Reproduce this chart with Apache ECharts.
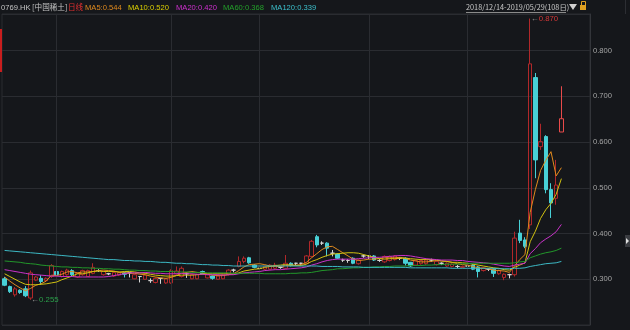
<!DOCTYPE html>
<html><head><meta charset="utf-8">
<script src="https://cdn.jsdelivr.net/npm/echarts@6/dist/echarts.min.js"></script>
<style>html,body{margin:0;padding:0;background:#15171b;}#c{width:630px;height:330px;}</style>
</head><body><div id="c"></div>
<script>
// ---- data ----
const dec2018 = [14,17,18,19,20,21,24,27,28,31];
const jan2019 = [2,3,4,7,8,9,10,11,14,15,16,17,18,21,22,23,24,25,28,29,30,31];
const feb2019 = [1,4,8,11,12,13,14,15,18,19,20,21,22,25,26,27,28];
const mar2019 = [1,4,5,6,7,8,11,12,13,14,15,18,19,20,21,22,25,26,27,28,29];
const apr2019 = [1,2,3,4,8,9,10,11,12,15,16,17,18,23,24,25,26,29,30];
const may2019 = [2,3,6,7,8,9,10,14,15,16,17,20,21,22,23,24,27,28,29];

const opens = [.301,.284,.266,.276,.279,.259,.298,.302,.297,.306,
.317,.306,.310,.319,.305,.310,.306,.313,.319,.310,
.312,.307,.309,.314,.314,.301,.306,.300,.297,.293,
.302,.292,.292,.312,.306,.312,.301,.301,.317,.303,
.307,.300,.301,.310,.320,.328,.339,.347,.331,.324,
.322,.322,.324,.326,.324,.335,.335,.335,.335,.350,
.393,.379,.379,.357,.355,.342,.341,.346,.334,.351,
.351,.351,.341,.338,.341,.343,.346,.346,.337,.331,
.334,.334,.342,.332,.335,.329,.328,.328,.326,.329,
.331,.327,.319,.322,.322,.312,.304,.310,.310,.401,
.386,.419,.741,.590,.612,.496,.477,.622];
const closes = [.287,.273,.279,.271,.264,.314,.305,.295,.302,.330,
.310,.317,.320,.310,.313,.319,.319,.326,.319,.317,
.312,.315,.314,.311,.314,.310,.306,.309,.297,.302,
.302,.301,.319,.318,.324,.312,.310,.310,.312,.310,
.302,.307,.310,.320,.320,.339,.346,.336,.326,.324,
.328,.331,.331,.326,.335,.330,.335,.335,.351,.383,
.375,.379,.368,.357,.346,.342,.341,.335,.342,.351,
.351,.342,.341,.350,.350,.351,.346,.335,.329,.341,
.341,.342,.342,.339,.335,.335,.333,.328,.328,.329,
.322,.317,.325,.322,.313,.319,.311,.310,.390,.385,
.372,.771,.561,.601,.496,.467,.506,.651];
const lows = [.285,.270,.262,.268,.261,.255,.296,.288,.295,.303,
.306,.304,.308,.306,.303,.308,.305,.311,.316,.308,
.309,.305,.307,.304,.304,.300,.293,.299,.292,.291,
.290,.290,.290,.310,.304,.303,.300,.300,.311,.302,
.299,.299,.300,.308,.315,.326,.335,.334,.324,.320,
.320,.321,.322,.323,.322,.328,.331,.331,.333,.348,
.370,.375,.350,.350,.344,.338,.336,.333,.332,.347,
.344,.340,.338,.336,.339,.341,.342,.330,.327,.329,
.332,.332,.338,.330,.331,.327,.326,.324,.324,.325,
.320,.304,.317,.318,.305,.310,.298,.302,.306,.379,
.368,.410,.521,.583,.488,.434,.463,.622];
const highs = [.305,.286,.283,.278,.285,.319,.307,.309,.304,.333,
.320,.319,.323,.322,.315,.321,.321,.335,.322,.319,
.314,.317,.316,.316,.315,.312,.307,.311,.302,.304,
.303,.303,.322,.328,.328,.315,.312,.312,.319,.312,
.308,.309,.312,.322,.323,.350,.350,.349,.333,.327,
.330,.333,.336,.328,.353,.337,.336,.336,.353,.386,
.397,.383,.381,.364,.357,.345,.344,.348,.344,.354,
.353,.353,.344,.352,.352,.353,.348,.348,.338,.343,
.343,.344,.345,.341,.337,.337,.335,.331,.330,.332,
.333,.329,.327,.324,.324,.321,.313,.312,.404,.430,
.392,.870,.751,.640,.615,.510,.561,.722];

const ma5 = [.305,.296,.288,.281,.275,.280,.287,.290,.296,.309,
.308,.311,.316,.317,.314,.316,.316,.317,.319,.320,
.319,.318,.315,.314,.313,.313,.311,.310,.307,.305,
.303,.302,.304,.308,.313,.315,.317,.315,.314,.311,
.309,.308,.308,.310,.312,.319,.327,.332,.333,.334,
.332,.329,.328,.328,.330,.331,.331,.332,.337,.347,
.356,.365,.371,.372,.365,.358,.351,.344,.341,.342,
.344,.344,.345,.347,.347,.347,.348,.346,.342,.340,
.338,.338,.339,.341,.340,.339,.337,.334,.332,.331,
.328,.325,.324,.323,.320,.319,.318,.315,.329,.343,
.354,.446,.496,.538,.560,.579,.526,.544];
const ma10 = [.312,.306,.300,.294,.289,.288,.288,.289,.290,.292,
.294,.299,.303,.307,.312,.312,.314,.317,.318,.317,
.317,.317,.316,.317,.317,.316,.314,.313,.311,.309,
.308,.307,.307,.308,.309,.309,.309,.310,.311,.312,
.312,.312,.312,.312,.311,.314,.318,.320,.322,.323,
.326,.328,.330,.331,.332,.331,.330,.330,.333,.339,
.343,.348,.352,.355,.356,.357,.358,.358,.357,.354,
.351,.348,.345,.344,.345,.345,.346,.346,.345,.344,
.343,.343,.343,.342,.340,.339,.337,.337,.336,.335,
.333,.331,.329,.327,.325,.324,.321,.320,.326,.331,
.336,.382,.405,.433,.452,.466,.486,.520];
const ma20 = [.321,.319,.317,.315,.313,.311,.310,.309,.308,.307,
.307,.306,.306,.306,.305,.305,.305,.305,.305,.305,
.306,.308,.310,.312,.314,.314,.314,.315,.314,.313,
.313,.312,.312,.312,.313,.312,.312,.311,.311,.310,
.310,.310,.309,.310,.310,.312,.314,.315,.316,.317,
.319,.320,.321,.321,.322,.323,.324,.325,.327,.331,
.334,.338,.341,.343,.344,.344,.344,.344,.345,.346,
.347,.348,.348,.349,.350,.351,.352,.352,.351,.349,
.347,.345,.344,.343,.342,.342,.342,.341,.341,.339,
.338,.337,.336,.335,.333,.331,.329,.328,.331,.333,
.335,.356,.367,.380,.388,.395,.404,.420];
const ma60 = [.340,.339,.338,.337,.335,.334,.333,.331,.330,.329,
.328,.327,.327,.326,.326,.325,.325,.324,.324,.323,
.323,.322,.322,.321,.320,.320,.319,.319,.318,.318,
.317,.317,.317,.316,.316,.316,.315,.315,.315,.314,
.314,.314,.314,.314,.313,.313,.313,.313,.313,.313,
.312,.312,.312,.312,.312,.313,.313,.314,.314,.315,
.317,.319,.320,.321,.323,.323,.324,.325,.325,.326,
.326,.327,.327,.328,.328,.329,.329,.329,.330,.330,
.330,.331,.331,.332,.332,.333,.333,.333,.334,.334,
.335,.335,.335,.335,.335,.335,.335,.335,.336,.338,
.339,.347,.351,.355,.358,.360,.363,.368];
const ma120 = [.363,.362,.361,.360,.359,.358,.357,.356,.355,.354,
.353,.352,.351,.350,.349,.348,.347,.346,.345,.344,
.343,.343,.342,.341,.341,.340,.340,.339,.339,.338,
.337,.337,.336,.335,.335,.334,.334,.333,.332,.332,
.331,.331,.330,.330,.329,.329,.329,.329,.329,.329,
.329,.329,.329,.329,.329,.329,.329,.329,.329,.329,
.329,.328,.328,.328,.328,.327,.327,.327,.327,.326,
.326,.326,.326,.326,.326,.326,.326,.326,.325,.325,
.325,.325,.325,.325,.325,.325,.324,.324,.324,.324,
.324,.324,.324,.324,.324,.323,.323,.323,.324,.324,
.325,.328,.330,.332,.334,.335,.336,.339];

const yTicks = [0.3, 0.4, 0.5, 0.6, 0.7, 0.8];
const stockName = '0769.HK';
const stockCn = '[中国稀土]';
const periodName = '日线';
const rangeText = '2018/12/14-2019/05/29(108日)';

// ---- build ----
const dates = [];
[[2018,12,dec2018],[2019,1,jan2019],[2019,2,feb2019],[2019,3,mar2019],[2019,4,apr2019],[2019,5,may2019]].forEach(([y,m,days])=>{
  days.forEach(d=>dates.push(y+'/'+String(m).padStart(2,'0')+'/'+String(d).padStart(2,'0')));
});
const pad = 5;
const cats = dates.concat(Array.from({length:pad},(_,i)=>'p'+i));
const monthStarts = [];
dates.forEach((d,i)=>{ if(i>0 && d.slice(5,7)!==dates[i-1].slice(5,7)) monthStarts.push(d); });

const n = opens.length;
const candle = opens.map((o,i)=>{
  const v=[o,closes[i],lows[i],highs[i]];
  if(i===n-1) return {value:v,itemStyle:{borderColor:'#e84a4a',color:'transparent'}};
  return v;
});
let iMax=0,iMin=0;
highs.forEach((h,i)=>{if(h>highs[iMax])iMax=i;});
lows.forEach((l,i)=>{if(l<lows[iMin])iMin=i;});

const C = {ma5:'#e08a1e', ma10:'#d2c210', ma20:'#c832c8', ma60:'#22962a', ma120:'#3cb8c4'};
function lineS(name,data,color){
  return {name,type:'line',data,symbol:'none',smooth:false,z:5,
    lineStyle:{color,width:1},itemStyle:{color},silent:true};
}
const last = a=>a[a.length-1].toFixed(3);

const hdrFont = '"Noto Sans CJK SC","Liberation Sans",sans-serif';
const lat = '"Liberation Sans",sans-serif';
const hdr = [
  {x:1,  t:stockName, c:'#c4c4c4', f:lat},
  {x:32, t:stockCn, c:'#c4c4c4', f:hdrFont},
  {x:68, t:periodName, c:'#e43030', f:hdrFont},
  {x:85, t:'MA5:'+last(ma5), c:C.ma5, f:lat},
  {x:128,t:'MA10:'+last(ma10), c:'#dcd000', f:lat},
  {x:176,t:'MA20:'+last(ma20), c:'#d030d0', f:lat},
  {x:223,t:'MA60:'+last(ma60), c:'#23a02a', f:lat},
  {x:271,t:'MA120:'+last(ma120), c:'#3cc0cc', f:lat}
];
const graphic = hdr.map(h=>({type:'text',x:h.x,y:7.5,style:{text:h.t,fill:h.c,font:'7.6px '+h.f,textVerticalAlign:'middle',verticalAlign:'middle'}}));
graphic.push({type:'text',x:466,y:7.5,style:{text:rangeText,fill:'#c8c8c8',font:'7.3px '+hdrFont,verticalAlign:'middle',textVerticalAlign:'middle'}});
graphic.push({type:'line',shape:{x1:466,y1:12.5,x2:566,y2:12.5},style:{stroke:'#8a8a8a',lineWidth:1}});
graphic.push({type:'polygon',shape:{points:[[569,4],[577,4],[573,10]]},style:{fill:'#d0d0d0'}});
graphic.push({type:'rect',shape:{x:580,y:5,width:6,height:5},style:{fill:'#e0a020'}});
graphic.push({type:'rect',shape:{x:581.5,y:1.5,width:4,height:4},style:{fill:'none',stroke:'#e0a020',lineWidth:1}});
graphic.push({type:'line',shape:{x1:625.5,y1:0,x2:625.5,y2:14},style:{stroke:'#2c2e33',lineWidth:1}});
graphic.push({type:'rect',shape:{x:0,y:29,width:2,height:43},style:{fill:'#c81e1e'}});
graphic.push({type:'rect',shape:{x:625,y:235,width:5,height:12},style:{fill:'#3a3c41'}});
graphic.push({type:'polygon',shape:{points:[[626,238],[629,241],[626,244]]},style:{fill:'#e0e0e0'}});

const option = {
  backgroundColor:'#15171b',
  animation:false,
  grid:{left:2,right:40,top:14,bottom:5,show:true,borderColor:'#2a2c31',borderWidth:1},
  xAxis:{type:'category',data:cats,boundaryGap:true,
    axisLine:{show:false},axisTick:{show:false},axisLabel:{show:false},splitLine:{show:false}},
  yAxis:{type:'value',position:'right',min:0.2,max:0.88,interval:0.1,scale:true,
    axisLine:{show:true,lineStyle:{color:'#33353a'}},axisTick:{show:false},
    axisLabel:{color:'#a6a6a6',fontSize:7.6,margin:3,fontFamily:lat,
      formatter:v=>yTicks.some(t=>Math.abs(t-v)<1e-6)?v.toFixed(3):''},
    splitLine:{lineStyle:{color:'#2a2c31',width:1}}},
  graphic,
  series:[
    {type:'candlestick',data:candle,barWidth:4,z:3,
      itemStyle:{color:'transparent',color0:'#48d0d6',borderColor:'#b0282a',borderColor0:'#48d0d6',borderColorDoji:'#d6d6d6',borderWidth:1},
      markLine:{silent:true,symbol:['none','none'],label:{show:false},animation:false,
        lineStyle:{color:'#2a2c31',type:'solid',width:1},
        data:monthStarts.map(d=>({xAxis:d}))},
      markPoint:{silent:true,symbol:'circle',symbolSize:1,itemStyle:{color:'transparent'},animation:false,
        data:[
          {coord:[dates[iMax],highs[iMax]],label:{show:true,position:'right',distance:0,
            formatter:'{a|←}{v|'+highs[iMax].toFixed(3)+'}',
            rich:{a:{color:'#9a9a9a',fontSize:8},v:{color:'#d23838',fontSize:7.8,fontFamily:lat}}}},
          {coord:[dates[iMin],lows[iMin]],label:{show:true,position:'right',distance:0,
            formatter:'{a|←}{v|'+lows[iMin].toFixed(3)+'}',
            rich:{a:{color:'#9a9a9a',fontSize:8},v:{color:'#2aa04a',fontSize:7.8,fontFamily:lat}}}}
        ]}
    },
    lineS('MA5',ma5,C.ma5),
    lineS('MA10',ma10,C.ma10),
    lineS('MA20',ma20,C.ma20),
    lineS('MA60',ma60,C.ma60),
    lineS('MA120',ma120,C.ma120)
  ]
};
const chart = echarts.init(document.getElementById('c'));
chart.setOption(option);
</script>
</body></html>
